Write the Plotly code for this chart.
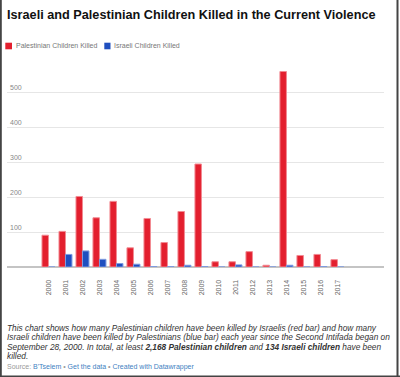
import plotly.graph_objects as go

years = list(range(2000, 2018))
palestinian = [91, 102, 202, 141, 188, 55, 139, 70, 159, 295, 15, 15, 44, 5, 560, 33, 36, 21]
israeli = [0, 36, 46, 22, 10, 8, 1, 1, 5, 1, 0, 6, 0, 0, 5, 0, 1, 0]
y_ticks = [100, 200, 300, 400, 500]

title = "Israeli and Palestinian Children Killed in the Current Violence"
legend_names = ["Palestinian Children Killed", "Israeli Children Killed"]
caption_lines = [
    "This chart shows how many Palestinian children have been killed by Israelis (red bar) and how many",
    "Israeli children have been killed by Palestinians (blue bar) each year since the Second Intifada began on",
    "September 28, 2000. In total, at least <b>2,168 Palestinian children</b> and <b>134 Israeli children</b> have been",
    "killed.",
]

RED = "#e31f2e"
BLUE = "#1f4fbf"
W, H = 400, 377
L, R, T, B = 7, 16, 68, 110
PW, PH = W - L - R, H - T - B
FONT = "Liberation Sans, Arial, sans-serif"


def px(x):
    return (x - L) / PW


def py(y):
    return (H - B - y) / PH


fig = go.Figure()
fig.add_trace(go.Bar(x=years, y=palestinian, name=legend_names[0], marker=dict(color=RED, line=dict(color="#f28a92", width=1)), showlegend=False))
fig.add_trace(go.Bar(x=years, y=israeli, name=legend_names[1], marker=dict(color=BLUE, line=dict(color="#7f9be0", width=1)), showlegend=False))

ann = []
ann.append(dict(text="<b>" + title + "</b>", x=px(5), y=py(15), xanchor="left", yanchor="middle",
                font=dict(family=FONT, size=12.7, color="#111")))
shapes = []
# legend
for (x0, x1, tx, name, col) in [(5.3, 12, 13.5, legend_names[0], RED), (104.3, 110.5, 112, legend_names[1], BLUE)]:
    shapes.append(dict(type="rect", xref="paper", yref="paper", x0=px(x0), x1=px(x1), y0=py(49.3), y1=py(42.7),
                       fillcolor=col, line=dict(width=0)))
    ann.append(dict(text=name, x=px(tx), y=py(46), xanchor="left", yanchor="middle",
                    font=dict(family=FONT, size=7, color="#777")))
# caption
for i, (line, yy) in enumerate(zip(caption_lines, [327.5, 337, 346.5, 356])):
    ann.append(dict(text="<i>" + line + "</i>", x=px(5), y=py(yy), xanchor="left", yanchor="middle",
                    font=dict(family=FONT, size=8.3, color="#333")))
ann.append(dict(text="<span style='color:#999'>Source: </span>B'Tselem<span style='color:#999'> • </span>Get the data<span style='color:#999'> • </span>Created with Datawrapper",
                x=px(5), y=py(367), xanchor="left", yanchor="middle",
                font=dict(family=FONT, size=7, color="#3f7fc2")))
for a in ann:
    a.update(xref="paper", yref="paper", showarrow=False)

# frame
shapes += [
    dict(type="line", xref="paper", yref="paper", x0=px(0.8), x1=px(0.8), y0=py(0), y1=py(377), line=dict(color="#444", width=2)),
    dict(type="line", xref="paper", yref="paper", x0=px(397.5), x1=px(397.5), y0=py(0), y1=py(377), line=dict(color="#444", width=2)),
    dict(type="line", xref="paper", yref="paper", x0=px(0), x1=px(400), y0=py(376.5), y1=py(376.5), line=dict(color="#444", width=2)),
]

fig.update_layout(
    width=W, height=H, margin=dict(l=L, r=R, t=T, b=B),
    paper_bgcolor="white", plot_bgcolor="white",
    barmode="group", bargap=0.235, bargroupgap=0,
    annotations=ann, shapes=shapes,
    font=dict(family=FONT),
    xaxis=dict(range=[1997.56, 2019.74], tickvals=years, ticktext=[str(y) for y in years], tickangle=-90,
               ticks="outside", ticklen=9, tickcolor="rgba(0,0,0,0)", showgrid=False, zeroline=False,
               tickfont=dict(family=FONT, size=7, color="#666"), fixedrange=True),
    yaxis=dict(range=[0, 570], tickvals=y_ticks, ticklabelposition="inside top", showgrid=True,
               gridcolor="#e6e6e6", gridwidth=1, zeroline=True, zerolinecolor="#c4c4c4", zerolinewidth=2,
               tickfont=dict(family=FONT, size=7, color="#888"), fixedrange=True),
)

fig.write_html("out.html", config={"displayModeBar": False},
               post_script="document.body.style.margin='0px';document.body.style.overflow='hidden';")
